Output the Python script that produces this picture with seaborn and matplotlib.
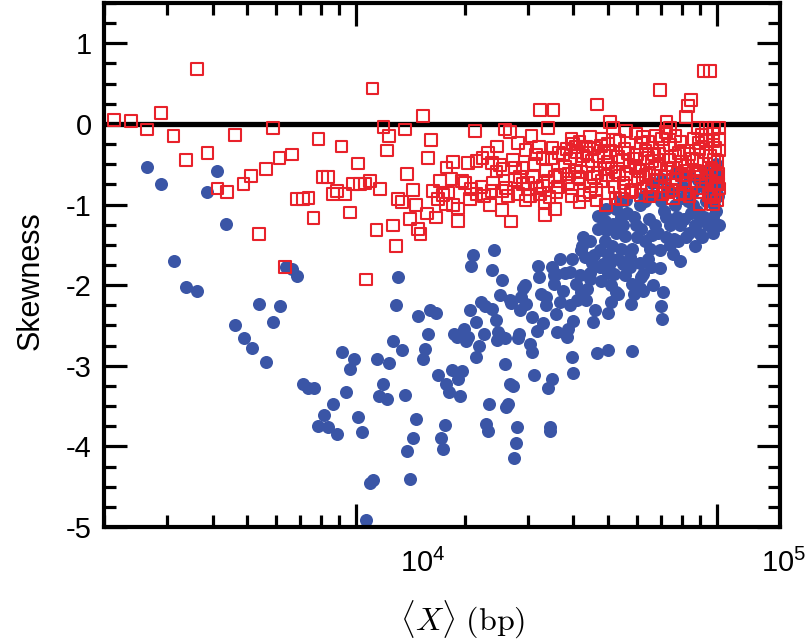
import matplotlib
matplotlib.use("Agg")
import matplotlib.pyplot as plt
import matplotlib.ticker as mticker
from matplotlib.transforms import ScaledTranslation
import numpy as np
import seaborn as sns

# open red squares: log10 of mean length (bp) and skewness
red_log_len = [
    3.328, 3.376, 3.420, 3.459, 3.494, 3.529, 3.559, 3.588, 3.616, 3.642,
    3.665, 3.688, 3.709, 3.730, 3.751, 3.769, 3.788, 3.803, 3.822, 3.836,
    3.854, 3.868, 3.882, 3.896, 3.907, 3.923, 3.937, 3.947, 3.960, 3.970,
    3.983, 3.991, 4.006, 4.011, 4.025, 4.028, 4.039, 4.046, 4.057, 4.076,
    4.066, 4.092, 4.085, 4.102, 4.111, 4.117, 4.127, 4.136, 4.142, 4.150,
    4.159, 4.166, 4.173, 4.179, 4.186, 4.196, 4.200, 4.207, 4.214, 4.222,
    4.228, 4.233, 4.242, 4.249, 4.251, 4.256, 4.265, 4.270, 4.270, 4.283,
    4.283, 4.293, 4.302, 4.311, 4.316, 4.320, 4.330, 4.334, 4.334, 4.348,
    4.351, 4.355, 4.366, 4.371, 4.376, 4.378, 4.380, 4.390, 4.391, 4.399,
    4.404, 4.406, 4.408, 4.413, 4.417, 4.422, 4.427, 4.431, 4.436, 4.440,
    4.440, 4.450, 4.450, 4.454, 4.463, 4.477, 4.477, 4.482, 4.487, 4.491,
    4.501, 4.508, 4.510, 4.510, 4.519, 4.519, 4.524, 4.524, 4.533, 4.533,
    4.537, 4.542, 4.548, 4.551, 4.551, 4.556, 4.563, 4.565, 4.584, 4.611,
    4.620, 4.639, 4.667, 4.668, 4.681, 4.694, 4.699, 4.704, 4.713, 4.750,
    4.762, 4.796, 4.833, 4.844, 4.861, 4.870, 4.865, 4.898, 4.916, 4.921,
    4.930, 4.948, 4.964, 4.983, 4.971, 4.994, 5.006, 4.971, 4.990, 4.994,
    4.999, 5.004, 4.985,
    4.593, 4.629, 4.654, 4.687, 4.726, 4.745, 4.770, 4.803, 4.820, 4.853,
    4.884, 4.909, 4.931, 4.953, 4.981, 5.003,
    4.579, 4.607, 4.643, 4.670, 4.709, 4.731, 4.759, 4.787, 4.814, 4.842,
    4.864, 4.892, 4.920, 4.942, 4.964, 4.986, 5.006,
    4.587, 4.620, 4.651, 4.681, 4.717, 4.742, 4.781, 4.806, 4.834, 4.856,
    4.886, 4.914, 4.939, 4.961, 4.986,
    4.598, 4.648, 4.731, 4.776, 4.848, 4.886, 4.936, 5.008,
    4.598, 4.648, 4.737, 4.814, 4.925, 4.953, 5.006,
    4.602, 4.660, 4.700, 4.755, 4.790, 4.826, 4.870, 4.905, 4.950, 4.995,
    4.615, 4.695, 4.765, 4.795, 4.845, 4.875, 4.905, 4.958, 4.998, 4.720,
    4.462, 4.495, 4.528, 4.470, 4.545, 4.500, 4.560, 4.470,
    4.620, 4.680, 4.720, 4.810, 4.860, 4.900, 4.960, 4.990,
    4.575, 4.612, 4.640, 4.672, 4.705, 4.740, 4.780, 4.810, 4.840, 4.868,
    4.895, 4.925, 4.945, 4.970, 4.992,
    4.590, 4.625, 4.660, 4.690, 4.720, 4.750, 4.775, 4.805, 4.830, 4.858,
    4.880, 4.915, 4.948, 4.975, 5.004,
    4.600, 4.632, 4.665, 4.700, 4.745, 4.790, 4.820, 4.850, 4.880, 4.912,
    4.950, 4.980, 5.002, 4.990,
]
red_skew = [
    0.05, 0.04, -0.07, 0.14, -0.15, -0.45, 0.68, -0.36, -0.80, -0.84,
    -0.14, -0.75, -0.65, -1.37, -0.56, -0.05, -0.42, -1.77, -0.38, -0.93,
    -0.93, -0.92, -1.17, -0.19, -0.66, -0.66, -0.87, -0.83, -0.28, -0.87,
    -1.10, -0.75, -0.49, -0.75, -0.74, -1.93, -0.71, 0.44, -1.32, -0.04,
    -0.81, -0.15, -0.33, -1.26, -1.51, -0.93, -0.97, -0.07, -0.62, -1.18,
    -0.82, -1.01, -1.30, -1.37, 0.10, -1.11, -0.42, -0.20, -0.83, -1.16,
    -0.93, -0.71, -0.88, -0.99, -0.54, -0.85, -0.68, -0.47, -1.01, -1.05,
    -1.20, -0.71, -0.73, -0.48, -0.93, -0.81, -0.09, -0.46, -0.87, -0.78,
    -0.42, -0.89, -0.36, -1.01, -0.83, -0.48, -0.73, -0.59, -0.28, -0.51,
    -0.83, -1.07, -0.56, -0.07, -0.79, -0.89, -0.10, -1.21, -0.45, -0.54,
    -0.70, -0.24, -0.87, -0.66, -0.75, -0.73, -0.81, -0.89, -0.15, -0.66,
    -0.79, -0.29, 0.17, -0.87, -0.42, -0.77, -0.97, -1.13, -0.05, -0.71,
    -0.91, -0.42, 0.17, -0.66, -1.06, -0.85, -0.36, -0.63, -0.31, -0.29,
    -0.97, -0.28, -0.95, 0.24, -0.19, -1.01, -0.25, 0.02, -0.05, -0.09,
    -0.85, -0.16, -0.15, 0.42, 0.02, -0.05, -0.85, -0.87, 0.09, 0.22,
    0.30, -0.05, 0.66, 0.66, -0.05, -0.05, -0.05, -0.21, -0.21, -0.89,
    -0.73, -0.62, -0.91,
    -0.43, -0.40, -0.46, -0.36, -0.41, -0.31, -0.43, -0.33, -0.46, -0.30,
    -0.40, -0.33, -0.43, -0.31, -0.40, -0.46,
    -0.53, -0.58, -0.52, -0.61, -0.54, -0.64, -0.52, -0.58, -0.61, -0.50,
    -0.56, -0.61, -0.52, -0.58, -0.50, -0.56, -0.33,
    -0.73, -0.68, -0.77, -0.71, -0.78, -0.73, -0.68, -0.78, -0.71, -0.77,
    -0.68, -0.75, -0.71, -0.80, -0.74,
    -0.19, -0.16, -0.21, -0.12, -0.19, -0.15, -0.19, -0.19,
    -0.89, -0.85, -0.93, -0.90, -0.90, -0.99, -0.80,
    -0.25, -0.30, -0.47, -0.36, -0.24, -0.38, -0.26, -0.47, -0.24, -0.30,
    -0.66, -0.64, -0.82, -0.66, -0.64, -0.82, -0.64, -0.66, -0.65, -0.92,
    -0.55, -0.50, -0.58, -0.95, -0.30, -0.38, -0.78, -0.32,
    -0.22, -0.27, -0.20, -0.22, -0.10, -0.22, -0.14, -0.12,
    -0.38, -0.35, -0.36, -0.40, -0.33, -0.45, -0.38, -0.42, -0.37, -0.45,
    -0.36, -0.37, -0.45, -0.35, -0.44,
    -0.62, -0.60, -0.66, -0.56, -0.60, -0.62, -0.55, -0.63, -0.55, -0.66,
    -0.55, -0.58, -0.62, -0.60, -0.75,
    -0.80, -0.88, -0.82, -0.86, -0.83, -0.88, -0.83, -0.87, -0.92, -0.86,
    -0.85, -0.88, -0.95, -1.00,
]

# filled blue circles
blue_log_len = [
    3.420, 3.459, 3.496, 3.529, 3.560, 3.588, 3.614, 3.640, 3.665, 3.688,
    3.711, 3.731, 3.750, 3.769, 3.788, 3.806, 3.822, 3.837, 3.854, 3.868,
    3.884, 3.896, 3.911, 3.922, 3.937, 3.948, 3.960, 3.972, 3.983, 3.994,
    4.006, 4.016, 4.028, 4.039, 4.048, 4.057, 4.065, 4.076, 4.085, 4.092,
    4.102, 4.110, 4.117, 4.127, 4.136, 4.142, 4.150, 4.159, 4.166, 4.173,
    4.185, 4.191, 4.201, 4.205, 4.222, 4.228, 4.235, 4.242, 4.247, 4.251,
    4.258, 4.265, 4.271, 4.279, 4.283, 4.288, 4.293, 4.300, 4.305, 4.311,
    4.316, 4.320, 4.325, 4.332, 4.334, 4.342, 4.348, 4.355, 4.357, 4.360,
    4.365, 4.369, 4.376, 4.378, 4.382, 4.388, 4.390, 4.394, 4.399, 4.404,
    4.404, 4.413, 4.413, 4.417, 4.422, 4.427, 4.429, 4.436, 4.438, 4.443,
    4.447, 4.450, 4.452, 4.454, 4.459, 4.470, 4.471, 4.482, 4.487, 4.489,
    4.493, 4.501, 4.505, 4.508, 4.514, 4.519, 4.526, 4.528, 4.533, 4.537,
    4.539, 4.545, 4.545, 4.548, 4.548, 4.556, 4.558, 4.565, 4.556, 4.574,
    4.584, 4.588, 4.593, 4.593, 4.598, 4.602, 4.602, 4.565, 4.620, 4.625,
    4.639, 4.648, 4.657, 4.662, 4.668, 4.699, 4.685, 4.699, 4.708, 4.722,
    4.740, 4.764, 4.770, 4.766, 4.766, 4.791, 4.796, 4.819, 4.851, 4.847,
    4.850, 4.625, 4.634, 4.676, 4.717, 4.727, 4.787, 4.796, 4.879, 4.881,
    4.953, 4.694, 4.750, 4.694, 4.690, 4.713, 4.736, 4.999, 4.990, 4.999,
    5.003, 5.000, 4.427, 4.463,
    4.648, 4.670, 4.676, 4.709, 4.726, 4.745, 4.753, 4.765, 4.776, 4.787,
    4.801, 4.809, 4.814, 4.828, 4.837, 4.842, 4.853, 4.864, 4.870, 4.884,
    4.892, 4.903, 4.911, 4.920, 4.925, 4.936, 4.945, 4.953, 4.961, 4.970,
    4.975, 4.983, 4.992, 5.003, 5.006, 4.820, 4.848, 4.886, 4.925, 4.967,
    4.978, 4.731, 4.803, 4.898, 4.842, 4.939, 4.654, 4.626, 4.598, 4.670,
    4.787, 4.745, 4.706, 4.823, 4.704,
    4.610, 4.640, 4.680, 4.700, 4.735, 4.760, 4.780, 4.815, 4.830, 4.860,
    4.900, 4.930, 4.960, 4.990, 4.720, 4.650, 4.580, 4.612,
    4.630, 4.660, 4.690, 4.720, 4.740, 4.770, 4.790, 4.800, 4.820, 4.845,
    4.860, 4.875, 4.890, 4.905, 4.915, 4.935, 4.950, 4.965, 4.985, 5.000,
    4.980, 4.940, 4.870, 4.760, 4.700,
]
blue_skew = [
    -0.54, -0.75, -1.70, -2.02, -2.07, -0.84, -0.58, -1.24, -2.50, -2.66,
    -2.78, -2.23, -2.95, -2.46, -2.26, -1.78, -1.80, -1.89, -3.23, -3.27,
    -3.27, -3.75, -3.61, -3.76, -3.47, -3.85, -2.83, -3.33, -3.04, -2.91,
    -3.63, -3.82, -4.91, -4.46, -4.42, -2.92, -3.38, -3.22, -3.41, -2.97,
    -2.69, -2.24, -1.90, -2.81, -3.36, -4.06, -4.40, -3.90, -3.66, -2.38,
    -2.92, -2.79, -2.60, -2.31, -2.35, -3.11, -3.89, -4.03, -3.74, -3.23,
    -3.33, -3.05, -2.61, -2.64, -3.16, -3.37, -3.06, -2.54, -2.69, -2.64,
    -2.31, -1.76, -1.63, -2.46, -2.89, -2.76, -2.21, -2.61, -2.26, -3.72,
    -3.81, -3.48, -2.29, -1.81, -1.56, -2.43, -2.68, -2.58, -2.12, -1.94,
    -2.64, -2.65, -2.98, -3.51, -3.47, -3.22, -2.22, -3.25, -4.14, -3.96,
    -3.76, -2.66, -2.60, -2.31, -2.15, -2.00, -2.23, -2.73, -2.83, -2.40,
    -3.11, -2.57, -1.76, -1.90, -2.11, -2.47, -2.25, -2.15, -3.28, -3.76,
    -3.81, -1.77, -3.16, -1.88, -1.98, -2.36, -2.58, -1.67, -1.86, -2.07,
    -2.64, -2.54, -1.84, -2.25, -2.89, -2.44, -3.09, -2.21, -1.88, -2.09,
    -2.19, -1.92, -2.46, -2.31, -2.84, -2.81, -1.74, -2.35, -2.21, -2.09,
    -1.74, -2.23, -2.11, -1.98, -2.82, -1.90, -2.07, -1.78, -2.08, -2.26,
    -2.42, -1.57, -1.65, -1.78, -1.86, -2.11, -2.03, -1.86, -1.61, -1.43,
    -1.37, -1.06, -0.94, -1.32, -1.45, -1.24, -1.16, -1.08, -1.16, -0.50,
    -0.62, -0.71, -2.19, -2.03,
    -1.45, -1.30, -1.57, -1.51, -1.67, -1.39, -1.10, -1.55, -1.26, -1.01,
    -1.45, -1.67, -1.18, -0.89, -1.35, -1.57, -1.08, -0.83, -1.26, -1.01,
    -1.45, -0.77, -1.18, -0.95, -1.35, -0.85, -1.08, -1.20, -0.77, -0.95,
    -1.26, -0.83, -1.01, -0.89, -1.26, -0.73, -0.68, -0.61, -0.64, -0.58,
    -0.68, -0.95, -0.95, -1.70, -1.79, -1.51, -1.72, -1.51, -1.67, -1.14,
    -1.72, -1.88, -2.00, -2.00, -1.72,
    -1.98, -2.05, -1.95, -1.62, -1.55, -1.78, -1.40, -1.55, -1.25, -1.40,
    -1.25, -1.10, -1.40, -1.35, -1.35, -1.85, -1.85, -2.18,
    -1.40, -1.62, -1.20, -1.05, -1.25, -1.15, -1.30, -0.90, -1.38, -0.95,
    -1.15, -0.85, -1.15, -0.92, -1.40, -1.00, -0.70, -1.15, -0.95, -0.80,
    -1.20, -1.25, -1.50, -1.65, -1.85,
]

y_ticks = [-5, -4, -3, -2, -1, 0, 1]
x_ticks = [1e4, 1e5]
x_tick_labels = [r"$\mathregular{10^{4}}$", r"$\mathregular{10^{5}}$"]

blue = "#3a55a6"
red = "#e8222b"

sns.set_style("ticks")
plt.rcParams["font.family"] = ["Liberation Sans", "DejaVu Sans"]
plt.rcParams["axes.unicode_minus"] = False
for key in ["text.color", "axes.labelcolor", "xtick.color", "ytick.color"]:
    plt.rcParams[key] = "black"

fig = plt.figure(figsize=(8.1, 6.41), dpi=100)
ax = fig.add_axes([104 / 810, 114 / 641, 676 / 810, 524 / 641])

ax.axhline(0, color="black", lw=3.8, zorder=1.5)

sns.scatterplot(x=10 ** np.array(blue_log_len), y=blue_skew, ax=ax,
                marker="o", color=blue, s=88, linewidth=0, zorder=2)
sns.scatterplot(x=10 ** np.array(red_log_len), y=red_skew, ax=ax,
                marker="s", fc="none", ec=red, s=72, linewidth=1.5, zorder=3)

ax.set_xscale("log")
ax.set_xlim(2000, 1.5e5)
ax.set_ylim(-5, 1.5)

ax.set_xticks(x_ticks)
ax.set_xticklabels(x_tick_labels)
ax.xaxis.set_minor_locator(mticker.LogLocator(base=10, subs=np.arange(2, 10)))
ax.xaxis.set_minor_formatter(mticker.NullFormatter())
ax.set_yticks(y_ticks)
ax.set_yticklabels([str(t) for t in y_ticks])
ax.yaxis.set_minor_locator(mticker.MultipleLocator(0.25))

ax.tick_params(which="both", direction="in", top=True, right=True,
               width=2.3, labelsize=21, color="black", labelcolor="black")
ax.tick_params(which="major", length=16.5)
ax.tick_params(which="minor", length=8.5)
ax.tick_params(axis="x", pad=16)
ax.tick_params(axis="y", pad=9)

# labels on the x axis sit to the right of their ticks
shift = ScaledTranslation(0.67, 0, fig.dpi_scale_trans)
for lab in ax.get_xticklabels():
    lab.set_transform(lab.get_transform() + shift)

for sp in ax.spines.values():
    sp.set_linewidth(3)
    sp.set_color("black")

ax.set_xlabel(r"$\langle X\rangle\ (\mathrm{bp})$", fontsize=23,
              math_fontfamily="cm", va="center")
ax.xaxis.set_label_coords(0.531, -0.177)
ax.set_ylabel("Skewness", fontsize=22, va="center")
ax.yaxis.set_label_coords(-0.109, 0.47)

plt.savefig("out.png", dpi=100)
